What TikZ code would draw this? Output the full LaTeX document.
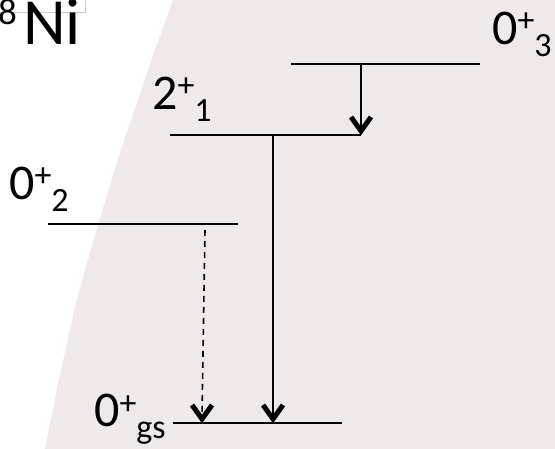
\documentclass[tikz,border=0pt]{standalone}
\usepackage{fontspec}
\setmainfont{Carlito}
\usetikzlibrary{calc}
\definecolor{bgc}{RGB}{240,233,234}
\definecolor{boxgray}{RGB}{205,205,205}
\newcommand{\jpilabel}[2]{#1\raisebox{13pt}{\fontsize{34}{34}\selectfont +}\raisebox{-12pt}{\fontsize{34}{34}\selectfont #2}}
\tikzset{
  lvl/.style={line width=1.4pt},
  lbl/.style={inner sep=0pt, anchor=base west, font=\fontsize{50}{50}\selectfont},
  gamma/.style={line width=2pt},
  gdash/.style={line width=1.6pt, dash pattern=on 6pt off 5pt},
  chev/.style={line width=5pt, line join=miter, miter limit=10, line cap=butt}
}
\newcommand{\chevtip}[1]{\draw[chev] ($(#1)+(-10,-18)$) -- ($(#1)+(0,-4)$) -- ($(#1)+(10,-18)$);}
\begin{document}
\begin{tikzpicture}[x=1pt,y=-1pt]
\useasboundingbox (0,0) rectangle (555,449);
\clip (0,0) rectangle (555,449);
% background region
\fill[bgc] (555,0) -- plot[smooth] coordinates {(173,0) (155,50) (138,100) (121,150) (98,225) (77,300) (60,375) (45,449)} -- (555,449) -- cycle;
% faint text-box border
\draw[boxgray, line width=0.7pt] (0,12) -- (85,12) -- (85,0);
% title
\node[inner sep=0pt, anchor=base west, font=\fontsize{66}{66}\selectfont] (ni) at (23,45) {Ni};
\node[inner sep=0pt, anchor=base east, font=\fontsize{37}{37}\selectfont] (mass) at (17,25) {58};
% levels
\coordinate (l3a) at (291,64);  \coordinate (l3b) at (480,64);
\coordinate (l1a) at (170,135); \coordinate (l1b) at (361,135);
\coordinate (l2a) at (48,224);  \coordinate (l2b) at (238,224);
\coordinate (lga) at (173,423); \coordinate (lgb) at (342,423);
\draw[lvl] (l3a) -- (l3b);
\draw[lvl] (l1a) -- (l1b);
\draw[lvl] (l2a) -- (l2b);
\draw[lvl] (lga) -- (lgb);
% labels
\node[lbl] (t3) at (492,45) {\jpilabel{0}{3}};
\node[lbl] (t1) at (152,110) {\jpilabel{2}{1}};
\node[lbl] (t2) at (9,200) {\jpilabel{0}{2}};
\node[lbl] (tg) at (94,427) {\jpilabel{0}{gs}};
% transitions
\coordinate (a3s) at (361,64);  \coordinate (a3e) at (361,135);
\coordinate (a1s) at (273,135); \coordinate (a1e) at (273,423);
\coordinate (a2s) at (205,230); \coordinate (a2e) at (202,423);
\draw[gamma] (a3s) -- ($(a3e)+(0,-6)$);
\draw[gamma] (a1s) -- ($(a1e)+(0,-6)$);
\draw[gdash] (a2s) -- ($(a2e)+(0,-8)$);
\chevtip{a3e}
\chevtip{a1e}
\chevtip{a2e}
\end{tikzpicture}
\end{document}
